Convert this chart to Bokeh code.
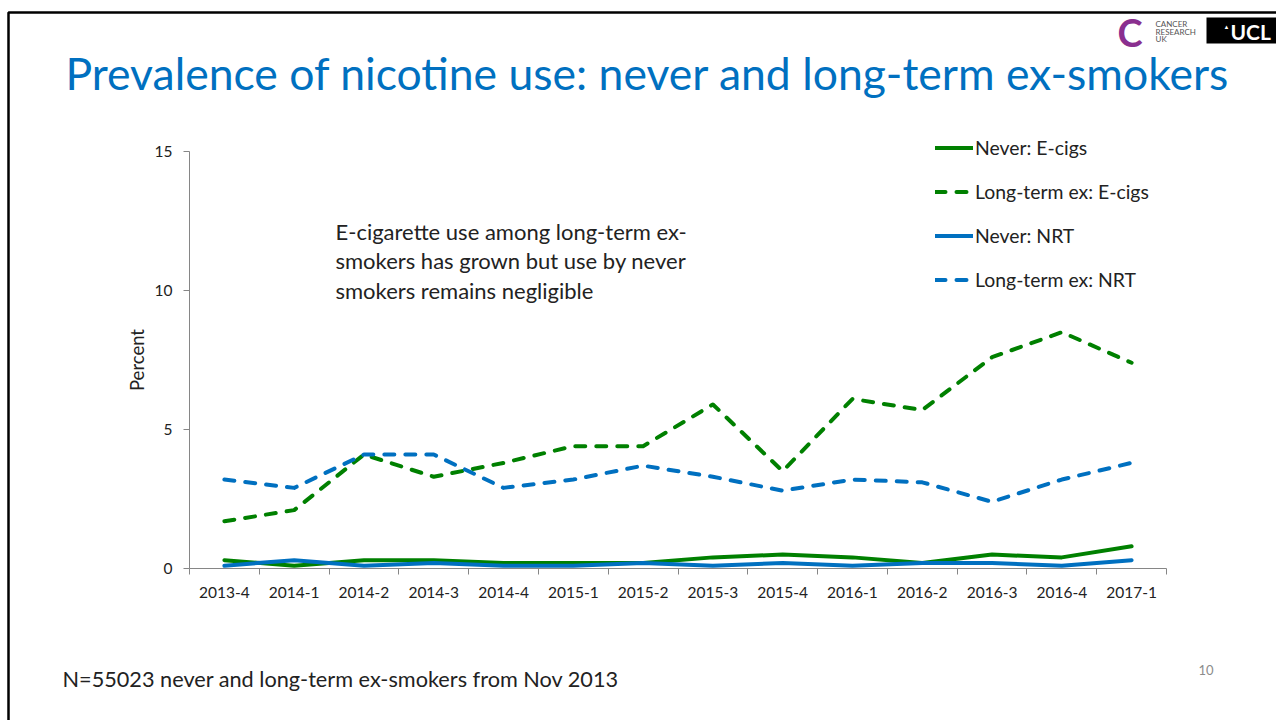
from bokeh.plotting import figure
from bokeh.models import (Range1d, FixedTicker, Label, Legend, LegendItem,
                          BoxAnnotation)
from bokeh.embed import file_html
from bokeh.resources import INLINE

# ---- data -------------------------------------------------------------
categories = ["2013-4", "2014-1", "2014-2", "2014-3", "2014-4", "2015-1",
              "2015-2", "2015-3", "2015-4", "2016-1", "2016-2", "2016-3",
              "2016-4", "2017-1"]
never_ecigs = [0.3, 0.1, 0.3, 0.3, 0.2, 0.2, 0.2, 0.4, 0.5, 0.4, 0.2, 0.5, 0.4, 0.8]
longterm_ex_ecigs = [1.7, 2.1, 4.1, 3.3, 3.8, 4.4, 4.4, 5.9, 3.5, 6.1, 5.7, 7.6, 8.5, 7.4]
never_nrt = [0.1, 0.3, 0.1, 0.2, 0.1, 0.1, 0.2, 0.1, 0.2, 0.1, 0.2, 0.2, 0.1, 0.3]
longterm_ex_nrt = [3.2, 2.9, 4.1, 4.1, 2.9, 3.2, 3.7, 3.3, 2.8, 3.2, 3.1, 2.4, 3.2, 3.8]
y_ticks = [0, 5, 10, 15]
y_max = 15

series_names = ["Never: E-cigs", "Long-term ex: E-cigs", "Never: NRT", "Long-term ex: NRT"]

title_text = "Prevalence of nicotine use: never and long-term ex-smokers"
note_lines = ["E-cigarette use among long-term ex-",
              "smokers has grown but use by never",
              "smokers remains negligible"]
footer_text = "N=55023 never and long-term ex-smokers from Nov 2013"
page_number = "10"

# ---- page geometry ----------------------------------------------------
W, H = 1276, 720
FL, FR, FT, FB = 189, 1166, 151, 568   # chart area edges on the page (px)

FONT = "Lato"
GREEN = "#008000"
BLUE = "#0070C0"
AXIS_GREY = "#868686"
TEXT = "#222222"

n = len(categories)
xs = [i + 0.5 for i in range(n)]

# the plot frame fills the whole page; ranges are set so that the chart
# area (0..n, 0..y_max) lands on the FL..FR / FT..FB rectangle
x_per = (FR - FL) / n
y_per = (FB - FT) / y_max
x_range = Range1d(-FL / x_per, (W - FL) / x_per)
y_range = Range1d(-(H - FB) / y_per, FB / y_per)


def sy(py):
    """page y (px, downwards) -> screen y (upwards)"""
    return H - py


def page_text(text, x, y, size, color=TEXT, style="normal", align="left"):
    """text placed by page pixels; y is the vertical middle of the line"""
    p.add_layout(Label(x=x, y=sy(y), x_units="screen", y_units="screen",
                       text=text, text_font=FONT, text_font_size=size,
                       text_font_style=style, text_color=color,
                       text_align=align, text_baseline="middle"))


p = figure(width=W, height=H, output_backend="svg", toolbar_location=None,
           x_range=x_range, y_range=y_range, min_border=0)
p.grid.visible = False
p.outline_line_color = None
p.background_fill_color = "white"
p.border_fill_color = "white"

# ---- axes -------------------------------------------------------------
xa = p.xaxis[0]
xa.fixed_location = 0
xa.bounds = (0, n)
xa.ticker = FixedTicker(ticks=xs, minor_ticks=list(range(n + 1)))
xa.major_label_overrides = {x: c for x, c in zip(xs, categories)}
xa.major_tick_in = 0
xa.major_tick_out = 0
xa.minor_tick_in = 0
xa.minor_tick_out = 6
xa.minor_tick_line_color = AXIS_GREY
xa.axis_line_color = AXIS_GREY
xa.major_label_standoff = 12
xa.major_label_text_font = FONT
xa.major_label_text_font_size = "15.5px"
xa.major_label_text_color = TEXT

ya = p.yaxis[0]
ya.fixed_location = 0
ya.bounds = (0, y_max)
ya.ticker = FixedTicker(ticks=y_ticks)
ya.major_tick_in = 0
ya.major_tick_out = 6
ya.minor_tick_out = 0
ya.minor_tick_in = 0
ya.major_tick_line_color = AXIS_GREY
ya.axis_line_color = AXIS_GREY
ya.major_label_standoff = 11
ya.major_label_text_font = FONT
ya.major_label_text_font_size = "15.5px"
ya.major_label_text_color = TEXT
ya.axis_label = "Percent"
ya.axis_label_text_font = FONT
ya.axis_label_text_font_size = "18.5px"
ya.axis_label_text_font_style = "normal"
ya.axis_label_text_color = TEXT
ya.axis_label_standoff = 4

# ---- series -----------------------------------------------------------
line_kw = dict(line_width=4, line_cap="round", line_join="round")
r_never_ecig = p.line(xs, never_ecigs, line_color=GREEN, **line_kw)
r_ex_ecig = p.line(xs, longterm_ex_ecigs, line_color=GREEN, line_dash="10 11", **line_kw)
r_never_nrt = p.line(xs, never_nrt, line_color=BLUE, **line_kw)
r_ex_nrt = p.line(xs, longterm_ex_nrt, line_color=BLUE, line_dash="10 11", **line_kw)

legend = Legend(
    items=[LegendItem(label=name, renderers=[r]) for name, r in
           zip(series_names, [r_never_ecig, r_ex_ecig, r_never_nrt, r_ex_nrt])],
    location=(935, sy(291)),
    orientation="vertical",
    glyph_width=38, glyph_height=23, label_height=23,
    label_standoff=2, spacing=21, padding=0, margin=0,
    border_line_color=None, background_fill_alpha=0,
    label_text_font=FONT, label_text_font_size="19.4px", label_text_color=TEXT,
)
p.add_layout(legend)

# ---- slide frame ------------------------------------------------------
p.add_layout(BoxAnnotation(left=8, right=1400, top=sy(12), bottom=sy(800),
                           left_units="screen", right_units="screen",
                           top_units="screen", bottom_units="screen",
                           fill_alpha=0, line_color="black", line_alpha=1,
                           line_width=2.5))

# ---- slide texts ------------------------------------------------------
page_text(title_text, 65, 72, "44.5px", color=BLUE)
for line, mid in zip(note_lines, [230.5, 260, 289.5]):
    page_text(line, 335, mid, "22px")
page_text(footer_text, 62, 678.5, "21.7px")
page_text(page_number, 1198, 669, "13px", color="#8c8c8c")

# ---- logos --------------------------------------------------------------
page_text("C", 1117, 31, "38px", color="#8a2f8f", style="bold")
for word, mid in zip(["CANCER", "RESEARCH", "UK"], [23.5, 31, 38.5]):
    page_text(word, 1155, mid, "8px", color="#555555")
p.add_layout(BoxAnnotation(left=1206, right=1300, top=sy(17), bottom=sy(43),
                           left_units="screen", right_units="screen",
                           top_units="screen", bottom_units="screen",
                           fill_color="black", fill_alpha=1, line_color=None))
page_text("\u25b2", 1223, 26, "6px", color="white")
page_text("UCL", 1230, 31, "21px", color="white", style="bold")

open("out.html", "w").write(file_html(p, INLINE))
